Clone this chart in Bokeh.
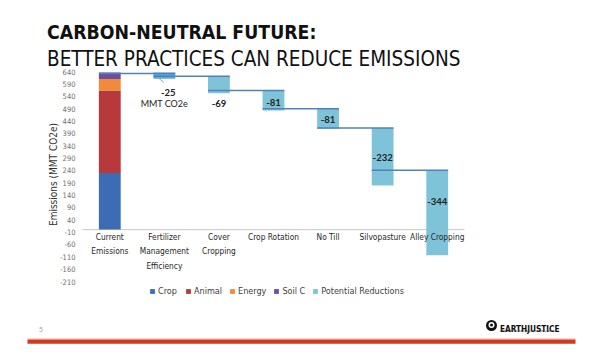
from bokeh.plotting import figure
from bokeh.models import (Range1d, FixedTicker, ColumnDataSource, Legend, LegendItem,
                          PrintfTickFormatter)
from bokeh.embed import file_html
from bokeh.resources import INLINE
from bokeh.core.properties import value

# ---------------- data ----------------
categories = ["Current\nEmissions", "Fertilizer\nManagement\nEfficiency", "Cover\nCropping",
              "Crop Rotation", "No Till", "Silvopasture", "Alley Cropping"]
components = ["Crop", "Animal", "Energy", "Soil C"]
current_values = [229, 334, 47, 26]
reductions = [-25, -69, -81, -81, -232, -344]
reduction_starts = [636, 621, 563, 489, 411, 240]
connector_levels = [632, 621, 563, 489, 411, 240]
y_ticks = list(range(-210, 641, 50))
title_line1 = "CARBON-NEUTRAL FUTURE:"
title_line2 = "BETTER PRACTICES CAN REDUCE EMISSIONS"
unit_note = "MMT CO2e"
page_number = "5"
brand = "EARTHJUSTICE"
tagline = "BECAUSE THE EARTH NEEDS A GOOD LAWYER"

# ---------------- style / layout ----------------
NARROW = "DejaVu Sans Condensed"
LBL = "Lato"
W, H = 600, 359
comp_colors = ["#3d6cb4", "#b8393b", "#f38a3a", "#6a4f9f"]
red_colors = ["#5aa9d8", "#7fc3d8", "#7fc3d8", "#7fc3d8", "#7fc3d8", "#7fc3d8"]
line_color = "#4f81bd"
BAR_W = 0.4
LABEL_Y = [555, 511, 516, 446, 290, 115]
LABEL_X_SHIFT = [0.07, 0, 0, 0, 0, 0]

# page-pixel -> data helpers (chart area: x 82..464, value 640 at y 71, -210 at y 281)
CAT_PX = 382 / 7.0
UPP = 850 / 210.0
FRAME_BOTTOM = 348


def X(px):
    return -0.5 + (px - 82) / CAT_PX


def Y(py):
    return 640 - (py - 71) * UPP


p = figure(width=W, height=H, x_range=Range1d(X(0), X(W)), y_range=Range1d(Y(FRAME_BOTTOM), Y(0)),
           output_backend="svg", toolbar_location=None, x_axis_location=None,
           min_border_left=0, min_border_right=0, min_border_top=0,
           min_border_bottom=H - FRAME_BOTTOM, outline_line_color=None,
           border_fill_color="white", background_fill_color="white")
p.grid.visible = False

ya = p.yaxis[0]
ya.fixed_location = X(82)
ya.ticker = FixedTicker(ticks=y_ticks)
ya.formatter = PrintfTickFormatter(format="%d")
ya.axis_line_color = None
ya.major_tick_line_color = None
ya.minor_tick_line_color = None
ya.major_label_text_font = NARROW
ya.major_label_text_font_size = "7.5px"
ya.major_label_text_color = "#6f6f6f"
ya.major_label_standoff = 1
ya.axis_label = "Emissions (MMT CO2e)"
ya.axis_label_text_font = NARROW
ya.axis_label_text_font_size = "10px"
ya.axis_label_text_font_style = "normal"
ya.axis_label_text_color = "#333333"
ya.axis_label_standoff = -2

# zero line across chart area
p.segment(x0=[-0.5], x1=[len(categories) - 0.5], y0=[0], y1=[0], line_color="#c8c8c8", line_width=1)

# stacked current emissions
stack_src = ColumnDataSource({"x": [0], **{c: [v] for c, v in zip(components, current_values)}})
stack_r = p.vbar_stack(components, x="x", width=BAR_W, color=comp_colors, source=stack_src,
                       line_color=None)

# reduction bars
xs = list(range(1, len(categories)))
ends = [s + r for s, r in zip(reduction_starts, reductions)]
red_src = ColumnDataSource(dict(x=xs, top=reduction_starts, bottom=ends, color=red_colors))
red_r = p.vbar(x="x", top="top", bottom="bottom", width=BAR_W, source=red_src,
               fill_color="color", line_color=None)

# connector step lines
seg_x0 = [i - 1 - BAR_W / 2 for i in xs]
seg_x1 = [i + BAR_W / 2 for i in xs]
p.segment(x0=seg_x0, x1=seg_x1, y0=connector_levels, y1=connector_levels,
          line_color=line_color, line_width=1.5)

# leader line for first label
p.segment(x0=[1 - 0.11], y0=[ends[0] + 3], x1=[1 - 0.01], y1=[ends[0] - 15],
          line_color="#a0a0a0", line_width=1)

# value labels
p.text(x=[x + dx for x, dx in zip(xs, LABEL_X_SHIFT)], y=LABEL_Y, text=[str(r) for r in reductions],
       text_font=value(LBL), text_font_style="bold", text_font_size="9.5px",
       text_align="center", text_baseline="middle", text_color="#222222")
p.text(x=[1.0], y=[511], text=[unit_note], text_font=value(LBL), text_font_size="9px",
       text_align="center", text_baseline="middle", text_color="#222222")

# category labels
p.text(x=list(range(len(categories))), y=[0] * len(categories), text=categories, y_offset=2,
       text_font=value(NARROW), text_font_size="8.3px", text_align="center",
       text_baseline="top", text_line_height=1.45, text_color="#262626")

items = [LegendItem(label=c, renderers=[r]) for c, r in zip(components, stack_r)]
items.append(LegendItem(label="Potential Reductions", renderers=[red_r], index=1))
legend = Legend(items=items, orientation="horizontal", location=(149, 52),
                glyph_width=6, glyph_height=6, label_text_font=NARROW,
                label_text_font_size="9px", label_text_color="#404040",
                spacing=7, label_standoff=3, padding=0, margin=0,
                border_line_color=None, background_fill_alpha=0, label_height=10)
p.add_layout(legend, "center")

# ---------------- header ----------------
p.text(x=[X(46.5)], y=[Y(31.7)], text=[title_line1], text_font=value(NARROW),
       text_font_style="bold", text_font_size="19.3px", text_baseline="alphabetic",
       text_color="#111111")
p.text(x=[X(46.5)], y=[Y(58.3)], text=[title_line2], text_font=value(NARROW),
       text_font_style="normal", text_font_size="20.5px", text_baseline="alphabetic",
       text_color="#111111")

# ---------------- footer ----------------
p.text(x=[X(38.5)], y=[Y(329)], text=[page_number], text_font=value("Open Sans"),
       text_font_size="7px", text_baseline="middle", text_color="#9a9a9a")
p.quad(left=[X(27)], right=[X(575)], top=[Y(337.8)], bottom=[Y(339)],
       fill_color="#ecc9bd", line_color=None)
p.quad(left=[X(27)], right=[X(575)], top=[Y(339)], bottom=[Y(343.3)],
       fill_color="#d2391f", line_color=None)
p.circle(x=[X(491)], y=[Y(325)], radius=5.5 / CAT_PX, fill_color="#111111", line_color=None)
p.circle(x=[X(491)], y=[Y(324.5)], radius=3 / CAT_PX, fill_color="white", line_color=None)
p.circle(x=[X(491)], y=[Y(324.5)], radius=1.5 / CAT_PX, fill_color="#111111", line_color=None)
p.text(x=[X(499.5)], y=[Y(328.5)], text=[brand], text_font=value(NARROW),
       text_font_style="bold", text_font_size="8.2px", text_baseline="alphabetic",
       text_color="#111111")
p.text(x=[X(500)], y=[Y(331.5)], text=[tagline], text_font=value(NARROW),
       text_font_size="2.6px", text_baseline="middle", text_color="#333333")

open("out.html", "w").write(file_html(p, INLINE))
